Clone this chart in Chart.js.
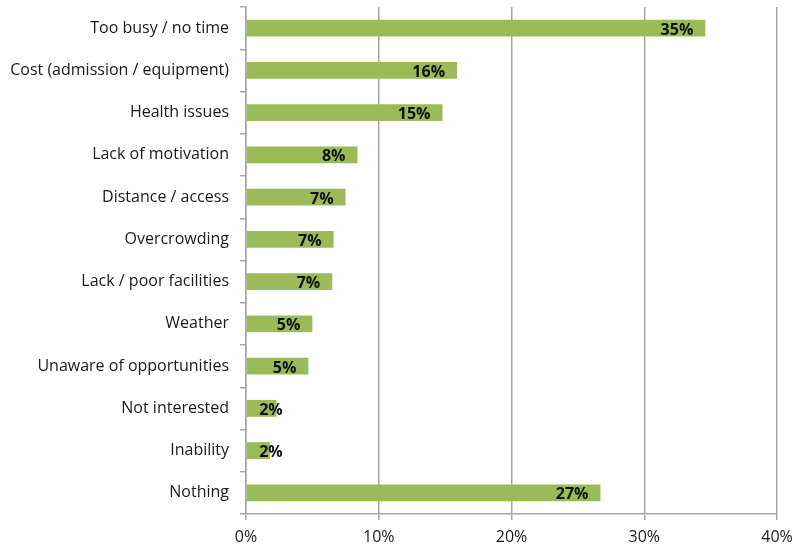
<!DOCTYPE html>
<html lang="en">
<head>
    <meta charset="UTF-8">
    <title>Barriers</title>
    <style>
        html, body {
            margin: 0;
            padding: 0;
            background-color: #fff;
        }
        #wrap {
            position: relative;
            width: 801px;
            height: 548px;
        }
    </style>
    <script src="https://cdn.jsdelivr.net/npm/chart.js"></script>
</head>
<body>
    <div id="wrap"><canvas id="barChart"></canvas></div>

    <script>
        const categories = [
            'Too busy / no time',
            'Cost (admission / equipment)',
            'Health issues',
            'Lack of motivation',
            'Distance / access',
            'Overcrowding',
            'Lack / poor facilities',
            'Weather',
            'Unaware of opportunities',
            'Not interested',
            'Inability',
            'Nothing'
        ];
        const values = [34.6, 15.9, 14.8, 8.4, 7.5, 6.6, 6.5, 5.0, 4.7, 2.3, 1.8, 26.7];
        const valueLabels = ['35%', '16%', '15%', '8%', '7%', '7%', '7%', '5%', '5%', '2%', '2%', '27%'];
        const xTicks = [0, 10, 20, 30, 40];

        const fontFamily = '"Open Sans", "Noto Sans", sans-serif';

        // draw the value labels at the end of each bar
        const barLabels = {
            id: 'barLabels',
            afterDatasetsDraw(chart) {
                const ctx = chart.ctx;
                const meta = chart.getDatasetMeta(0);
                ctx.save();
                ctx.font = 'bold 16px ' + fontFamily;
                ctx.fillStyle = '#111';
                ctx.textAlign = 'right';
                ctx.textBaseline = 'middle';
                meta.data.forEach(function(bar, i) {
                    const x = Math.max(bar.x - 12, bar.base + 36);
                    ctx.fillText(valueLabels[i], x, bar.y + 2);
                });
                ctx.restore();
            }
        };

        const ctx = document.getElementById('barChart').getContext('2d');
        new Chart(ctx, {
            type: 'bar',
            data: {
                labels: categories,
                datasets: [{
                    data: values,
                    backgroundColor: '#9bbb59',
                    borderWidth: 0,
                    barPercentage: 0.8,
                    categoryPercentage: 0.5
                }]
            },
            options: {
                indexAxis: 'y',
                responsive: true,
                maintainAspectRatio: false,
                animation: false,
                layout: {
                    padding: { left: 0, right: 24, top: 7, bottom: 0 }
                },
                plugins: {
                    legend: { display: false },
                    tooltip: { enabled: false }
                },
                scales: {
                    x: {
                        min: 0,
                        max: 40,
                        afterBuildTicks: function(scale) {
                            scale.ticks = xTicks.map(v => ({ value: v }));
                        },
                        afterFit: function(scale) {
                            scale.height = 34;
                            scale.paddingRight = 0;
                        },
                        ticks: {
                            callback: v => v + '%',
                            color: '#1a1a1a',
                            font: { family: fontFamily, size: 16 },
                            padding: 8
                        },
                        grid: {
                            color: '#a6a6a6',
                            lineWidth: 1.5,
                            tickLength: 6
                        },
                        border: { color: '#a6a6a6', width: 1.5 }
                    },
                    y: {
                        afterFit: function(scale) {
                            scale.width = 246;
                            scale.paddingTop = 0;
                            scale.paddingBottom = 0;
                        },
                        ticks: {
                            color: '#1a1a1a',
                            font: { family: fontFamily, size: 16 },
                            padding: 11
                        },
                        grid: {
                            drawOnChartArea: false,
                            color: '#a6a6a6',
                            lineWidth: 1.5,
                            tickLength: 6,
                            offset: true
                        },
                        border: { color: '#a6a6a6', width: 1.5 }
                    }
                }
            },
            plugins: [barLabels]
        });
    </script>
</body>
</html>
